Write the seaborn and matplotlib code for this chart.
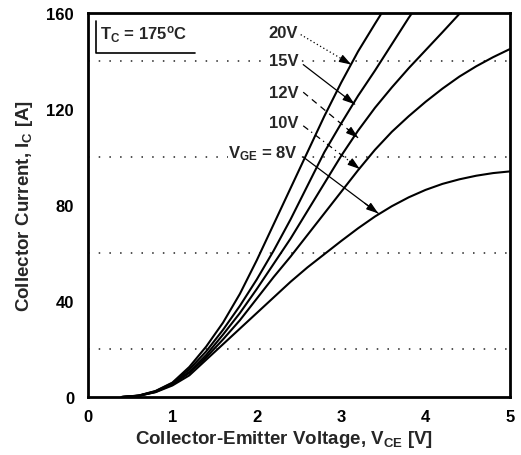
import numpy as np
import pandas as pd
import matplotlib
matplotlib.use("Agg")
import matplotlib.pyplot as plt
import seaborn as sns

# Output characteristics at Tc = 175 C: collector current vs. collector-emitter voltage
vce = [0.4, 0.6, 0.8, 1.0, 1.2, 1.4, 1.6, 1.8, 2.0, 2.2, 2.4, 2.6, 2.8,
       3.0, 3.2, 3.4, 3.6, 3.8, 4.0, 4.2, 4.4, 4.6, 4.8, 5.0]

ic_20v = [0, 0.6, 2.5, 6, 12.5, 21, 31, 43, 57, 72, 87, 102, 117, 131, 144, 155.5]
vce_20v_end, ic_20v_end = 3.48, 160

ic_15v = [0, 0.6, 2.4, 5.8, 11.5, 19, 28, 38, 49, 61, 74, 88, 102, 114, 125.5, 136, 147, 158]
vce_15v_end, ic_15v_end = 3.84, 160

ic_12v = [0, 0.5, 2.2, 5.5, 10.5, 17.5, 26, 35, 45, 55.5, 66, 77.5, 89, 100.5, 111,
          120.5, 129, 137, 144.5, 152]
vce_12v_end, ic_12v_end = 4.41, 160

ic_10v = [0, 0.5, 2.1, 5.2, 10, 16.5, 24, 32, 41, 50, 58.5, 67.5, 76.5, 85.5, 94.5,
          103, 110.5, 117, 123, 128.5, 133.5, 137.8, 141.6, 145]

ic_8v = [0, 0.5, 2.0, 4.8, 9, 15.5, 22, 28.5, 35, 41.5, 48, 54, 59.5, 65, 70.3, 75.2,
         79.5, 83.2, 86.3, 88.8, 90.7, 92.2, 93.3, 94]

gate_labels = ["20V", "15V", "12V", "10V", "8V"]

x_ticks = [0, 1, 2, 3, 4, 5]
y_ticks = [0, 40, 80, 120, 160]
y_grid = [20, 60, 100, 140]

frames = []
for name, ic, end in [("20V", ic_20v, (vce_20v_end, ic_20v_end)),
                      ("15V", ic_15v, (vce_15v_end, ic_15v_end)),
                      ("12V", ic_12v, (vce_12v_end, ic_12v_end)),
                      ("10V", ic_10v, None),
                      ("8V", ic_8v, None)]:
    xs = list(vce[:len(ic)])
    ys = list(ic)
    if end is not None:
        xs.append(end[0])
        ys.append(end[1])
    frames.append(pd.DataFrame({"VCE": xs, "IC": ys, "VGE": name}))
df = pd.concat(frames, ignore_index=True)

sns.set_theme(style="white")
plt.rcParams["font.family"] = ["Liberation Sans", "DejaVu Sans"]
plt.rcParams["font.weight"] = "bold"
plt.rcParams["mathtext.fontset"] = "custom"
plt.rcParams["mathtext.rm"] = "Liberation Sans:bold"
plt.rcParams["mathtext.it"] = "Liberation Sans:bold"
plt.rcParams["mathtext.bf"] = "Liberation Sans:bold"

fig = plt.figure(figsize=(5.21, 4.56), dpi=100)
ax = fig.add_axes([88 / 521, 58 / 456, 422 / 521, 384 / 456])

# dotted reference lines between the labelled ticks
for g in y_grid:
    ax.axhline(g, color="#222222", lw=1.1, linestyle=(0, (1, 6)), zorder=1)

sns.lineplot(data=df, x="VCE", y="IC", hue="VGE", hue_order=gate_labels,
             palette=["black"] * 5, linewidth=1.5, legend=False, ax=ax,
             estimator=None, sort=True, zorder=3)

ax.set_xlim(0, 5)
ax.set_ylim(0, 160)
ax.set_xticks(x_ticks)
ax.set_yticks(y_ticks)
ax.tick_params(axis="both", length=0, labelsize=12, colors="black")
ax.tick_params(axis="x", pad=9)
ax.tick_params(axis="y", pad=10)
for lab in ax.get_xticklabels() + ax.get_yticklabels():
    lab.set_fontweight("bold")
for s in ax.spines.values():
    s.set_color("black")
    s.set_linewidth(2)

ax.set_xlabel(r"Collector-Emitter Voltage, V$_\mathrm{CE}$ [V]", fontsize=13.5,
              fontweight="bold")
ax.xaxis.set_label_coords(0.465, -0.082)
ax.set_ylabel(r"Collector Current, I$_\mathrm{C}$ [A]", fontsize=13.5,
              fontweight="bold", labelpad=8)

# temperature note with its corner bracket
ax.text(0.14, 151.5, r"T$_\mathrm{C}$ = 175$^\mathrm{o}$C", fontsize=12,
        fontweight="bold", ha="left", va="center", zorder=5)
ax.plot([0.095, 0.095, 1.27], [156.5, 143.5, 143.5],
        color="black", lw=1.2, zorder=5, clip_on=False)

# gate-voltage labels with pointer arrows
labels = [
    ("20V", (2.49, 152), (2.52, 151.0), (3.12, 138.5), (0, (1, 2))),
    ("15V", (2.49, 140), (2.55, 138.5), (3.16, 122.0), "solid"),
    ("12V", (2.49, 127), (2.55, 127.0), (3.20, 108.0), (0, (5, 4))),
    ("10V", (2.49, 114.5), (2.55, 113.0), (3.22, 95.0), (0, (5, 3, 1, 3))),
    (r"V$_\mathrm{GE}$ = 8V", (2.49, 102), (2.55, 100.0), (3.44, 76.5), "solid"),
]
for text, pos, start, tip, ls in labels:
    ax.text(pos[0], pos[1], text, fontsize=12, fontweight="bold", ha="right",
            va="center", zorder=6,
            bbox=dict(facecolor="white", edgecolor="none", pad=0.5))
    ax.plot([start[0], tip[0]], [start[1], tip[1]], color="black", lw=0.9,
            linestyle=ls, zorder=4)
    base = (start[0] + 0.82 * (tip[0] - start[0]), start[1] + 0.82 * (tip[1] - start[1]))
    ax.annotate("", xy=tip, xytext=base,
                arrowprops=dict(arrowstyle="-|>,head_length=0.6,head_width=0.2",
                                color="black", lw=0.9, shrinkA=0, shrinkB=0),
                zorder=4)

fig.savefig("out.png", dpi=100, facecolor="white")
